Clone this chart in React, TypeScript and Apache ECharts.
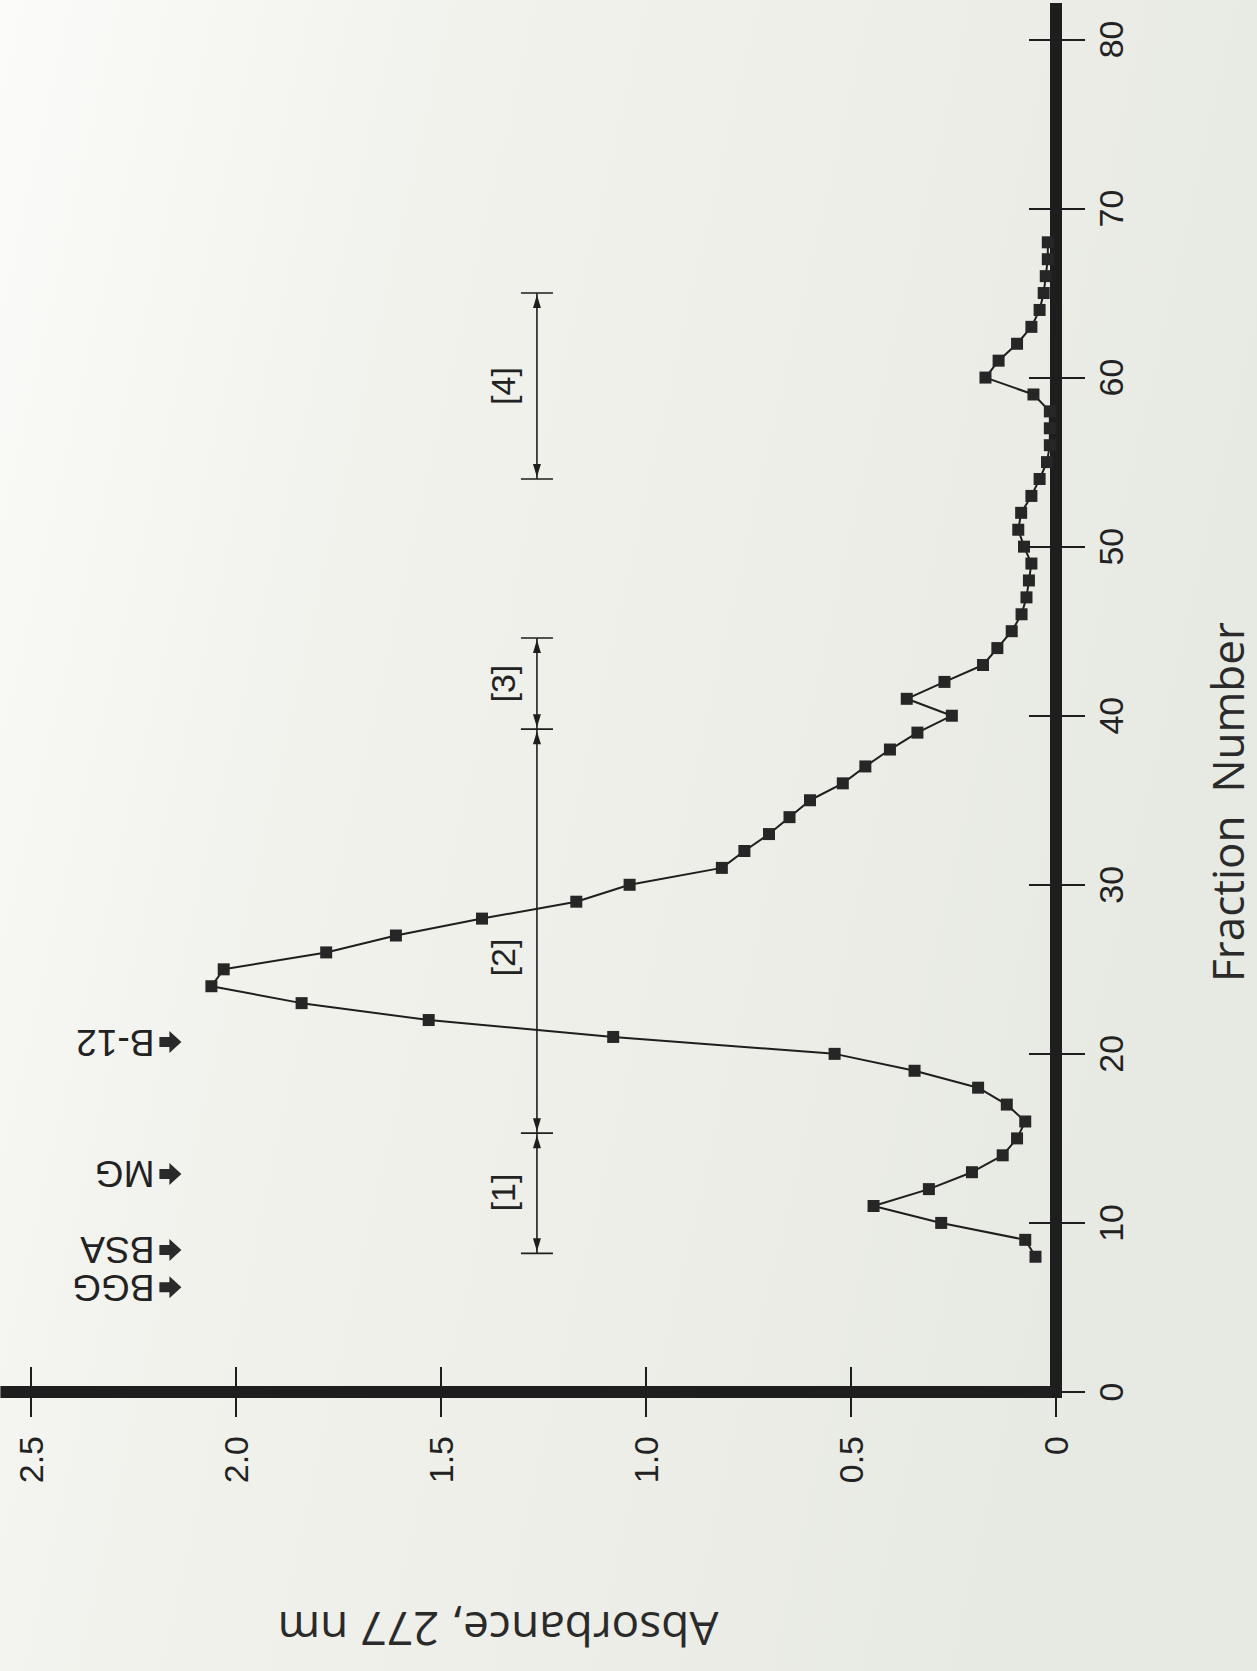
import React, { useEffect, useRef } from "react";
import * as echarts from "echarts";

// Fraction numbers and absorbance (277 nm)
const fractions = [
  8, 9, 10, 11, 12, 13, 14, 15, 16, 17, 18, 19, 20, 21, 22, 23, 24, 25, 26, 27,
  28, 29, 30, 31, 32, 33, 34, 35, 36, 37, 38, 39, 40, 41, 42, 43, 44, 45, 46, 47,
  48, 49, 50, 51, 52, 53, 54, 55, 56, 57, 58, 59, 60, 61, 62, 63, 64, 65, 66, 67, 68,
];
const absorbance = [
  0.05, 0.075, 0.28, 0.445, 0.31, 0.205, 0.13, 0.095, 0.075, 0.12, 0.19, 0.345,
  0.54, 1.08, 1.53, 1.84, 2.06, 2.03, 1.78, 1.61, 1.4, 1.17, 1.04, 0.815, 0.76,
  0.7, 0.65, 0.6, 0.52, 0.465, 0.405, 0.338, 0.254, 0.364, 0.272, 0.178, 0.143,
  0.108, 0.084, 0.072, 0.066, 0.06, 0.078, 0.092, 0.085, 0.06, 0.04, 0.022,
  0.015, 0.015, 0.015, 0.055, 0.172, 0.14, 0.095, 0.06, 0.04, 0.03, 0.025, 0.02,
  0.02,
];

const fractionTicks = [0, 10, 20, 30, 40, 50, 60, 70, 80];
const absorbanceTicks = [0, 0.5, 1, 1.5, 2, 2.5];

// Pooled ranges [1]..[4]
const rangeLabels = ["[1]", "[2]", "[3]", "[4]"];
const rangeStarts = [8.2, 15.3, 39.2, 54];
const rangeEnds = [15.3, 39.2, 44.6, 65];
const rangeLabelFractions = [11.8, 25.7, 41.9, 59.5];
const rangeBarAbsorbance = 1.266;

// Marker proteins
const markerNames = ["BGG", "BSA", "MG", "B-12"];
const markerFractions = [6.2, 8.4, 12.9, 20.7];
const markerAbsorbance = 2.16;

const W = 1257;
const H = 1671;
const X_MAX = 2.56;
const Y_MAX = 81.8;
const GRID_LEFT = 6.4;
const GRID_RIGHT = 201;
const GRID_TOP = 9;
const GRID_BOTTOM = 279;

const INK = "#1e1e1e";
const TICK_FONT = '"Liberation Sans", Arial, sans-serif';
const TITLE_FONT = '"Open Sans", "DejaVu Sans", sans-serif';

export default function App() {
  const ref = useRef<HTMLDivElement>(null);

  useEffect(() => {
    if (!ref.current) return;
    const chart = echarts.init(ref.current, undefined, { renderer: "svg" });
    const gridW = W - GRID_LEFT - GRID_RIGHT;
    const gridH = H - GRID_TOP - GRID_BOTTOM;

    const option: any = {
      animation: false,
      backgroundColor: "transparent",
      grid: { left: GRID_LEFT, right: GRID_RIGHT, top: GRID_TOP, bottom: GRID_BOTTOM },
      graphic: [
        {
          type: "rect",
          z: -100,
          silent: true,
          shape: { x: 0, y: 0, width: W, height: H },
          style: {
            fill: new echarts.graphic.LinearGradient(0, 0, 1, 0.3, [
              { offset: 0, color: "#fbfbf9" },
              { offset: 0.35, color: "#f1f2ec" },
              { offset: 1, color: "#e7eae2" },
            ]),
          },
        },
        {
          type: "text",
          x: 498,
          y: 1630,
          rotation: Math.PI,
          silent: true,
          style: {
            text: "Absorbance, 277 nm",
            fontFamily: TITLE_FONT,
            fontSize: 46,
            fill: "#2a2a2a",
            align: "center",
            verticalAlign: "middle",
          },
        },
        {
          type: "text",
          x: 1227,
          y: 802,
          rotation: Math.PI / 2,
          silent: true,
          style: {
            text: "Fraction  Number",
            fontFamily: TITLE_FONT,
            fontSize: 44,
            fill: "#2a2a2a",
            align: "center",
            verticalAlign: "middle",
          },
        },
      ],
      xAxis: [
        {
          type: "value",
          position: "bottom",
          inverse: true,
          min: 0,
          max: X_MAX,
          splitLine: { show: false },
          axisLine: { show: true, lineStyle: { color: INK, width: 12, cap: "square" } },
          axisTick: {
            show: true,
            customValues: absorbanceTicks,
            inside: false,
            length: 25,
            lineStyle: { color: INK, width: 2 },
          },
          axisLabel: {
            show: true,
            customValues: absorbanceTicks,
            rotate: 90,
            margin: 44,
            fontSize: 34,
            fontFamily: TICK_FONT,
            color: "#222",
            formatter: (v: number) => (v === 0 ? "0" : v.toFixed(1)),
          },
        },
        {
          type: "value",
          position: "top",
          offset: -gridH,
          inverse: true,
          min: 0,
          max: X_MAX,
          splitLine: { show: false },
          axisLine: { show: false },
          axisTick: {
            show: true,
            customValues: absorbanceTicks,
            inside: false,
            length: 25,
            lineStyle: { color: INK, width: 2 },
          },
          axisLabel: { show: false },
        },
      ],
      yAxis: [
        {
          type: "value",
          position: "right",
          min: 0,
          max: Y_MAX,
          splitLine: { show: false },
          axisLine: { show: true, lineStyle: { color: INK, width: 12, cap: "square" } },
          axisTick: {
            show: true,
            customValues: fractionTicks,
            inside: false,
            length: 29,
            lineStyle: { color: INK, width: 2 },
          },
          axisLabel: {
            show: true,
            customValues: fractionTicks,
            rotate: 90,
            margin: 38,
            fontSize: 34,
            fontFamily: TICK_FONT,
            color: "#222",
          },
        },
        {
          type: "value",
          position: "left",
          offset: -gridW,
          min: 0,
          max: Y_MAX,
          splitLine: { show: false },
          axisLine: { show: false },
          axisTick: {
            show: true,
            customValues: fractionTicks,
            inside: false,
            length: 27,
            lineStyle: { color: INK, width: 2 },
          },
          axisLabel: { show: false },
        },
      ],
      series: [
        {
          type: "line",
          xAxisIndex: 0,
          yAxisIndex: 0,
          data: fractions.map((f, i) => [absorbance[i], f]),
          symbol: "rect",
          symbolSize: 12,
          showAllSymbol: true,
          lineStyle: { color: INK, width: 2 },
          itemStyle: { color: "#262626" },
          z: 4,
        },
        {
          type: "custom",
          xAxisIndex: 0,
          yAxisIndex: 0,
          data: rangeLabels.map((_, i) => [
            rangeBarAbsorbance,
            rangeStarts[i],
            rangeEnds[i],
            rangeLabelFractions[i],
          ]),
          encode: { x: 0, y: [1, 2] },
          renderItem: (params: any, api: any) => {
            const a = api.value(0);
            const p0 = api.coord([a, api.value(1)]);
            const p1 = api.coord([a, api.value(2)]);
            const pl = api.coord([a, api.value(3)]);
            const x = p0[0];
            const y0 = p0[1];
            const y1 = p1[1];
            const st = { stroke: INK, lineWidth: 1.6 };
            return {
              type: "group",
              children: [
                { type: "line", shape: { x1: x, y1: y0, x2: x, y2: y1 }, style: st },
                { type: "line", shape: { x1: x - 16, y1: y0, x2: x + 16, y2: y0 }, style: st },
                { type: "line", shape: { x1: x - 16, y1: y1, x2: x + 16, y2: y1 }, style: st },
                {
                  type: "polygon",
                  shape: { points: [[x, y0 - 2], [x - 4, y0 - 15], [x + 4, y0 - 15]] },
                  style: { fill: INK },
                },
                {
                  type: "polygon",
                  shape: { points: [[x, y1 + 2], [x - 4, y1 + 15], [x + 4, y1 + 15]] },
                  style: { fill: INK },
                },
                {
                  type: "text",
                  x: x - 34,
                  y: pl[1],
                  rotation: Math.PI / 2,
                  style: {
                    text: rangeLabels[params.dataIndex],
                    fontFamily: TICK_FONT,
                    fontSize: 34,
                    fill: "#222",
                    align: "center",
                    verticalAlign: "middle",
                  },
                },
              ],
            };
          },
          z: 3,
        },
        {
          type: "custom",
          xAxisIndex: 0,
          yAxisIndex: 0,
          data: markerNames.map((_, i) => [markerAbsorbance, markerFractions[i]]),
          encode: { x: 0, y: 1 },
          renderItem: (params: any, api: any) => {
            const p = api.coord([api.value(0), api.value(1)]);
            const cx = p[0];
            const cy = p[1];
            const arrow = [
              [-11, -5],
              [-1, -5],
              [-1, -11],
              [11, 0],
              [-1, 11],
              [-1, 5],
              [-11, 5],
            ].map(([dx, dy]) => [cx + dx, cy + dy]);
            return {
              type: "group",
              children: [
                { type: "polygon", shape: { points: arrow }, style: { fill: "#2a2a2a" } },
                {
                  type: "text",
                  x: cx - 16,
                  y: cy,
                  rotation: Math.PI,
                  style: {
                    text: markerNames[params.dataIndex],
                    fontFamily: TICK_FONT,
                    fontSize: 37,
                    fill: "#222",
                    align: "left",
                    verticalAlign: "middle",
                  },
                },
              ],
            };
          },
          z: 3,
        },
      ],
    };

    chart.setOption(option);
    return () => chart.dispose();
  }, []);

  return (
    <div
      ref={ref}
      style={{ position: "absolute", left: 0, top: 0, width: W, height: H }}
    />
  );
}
